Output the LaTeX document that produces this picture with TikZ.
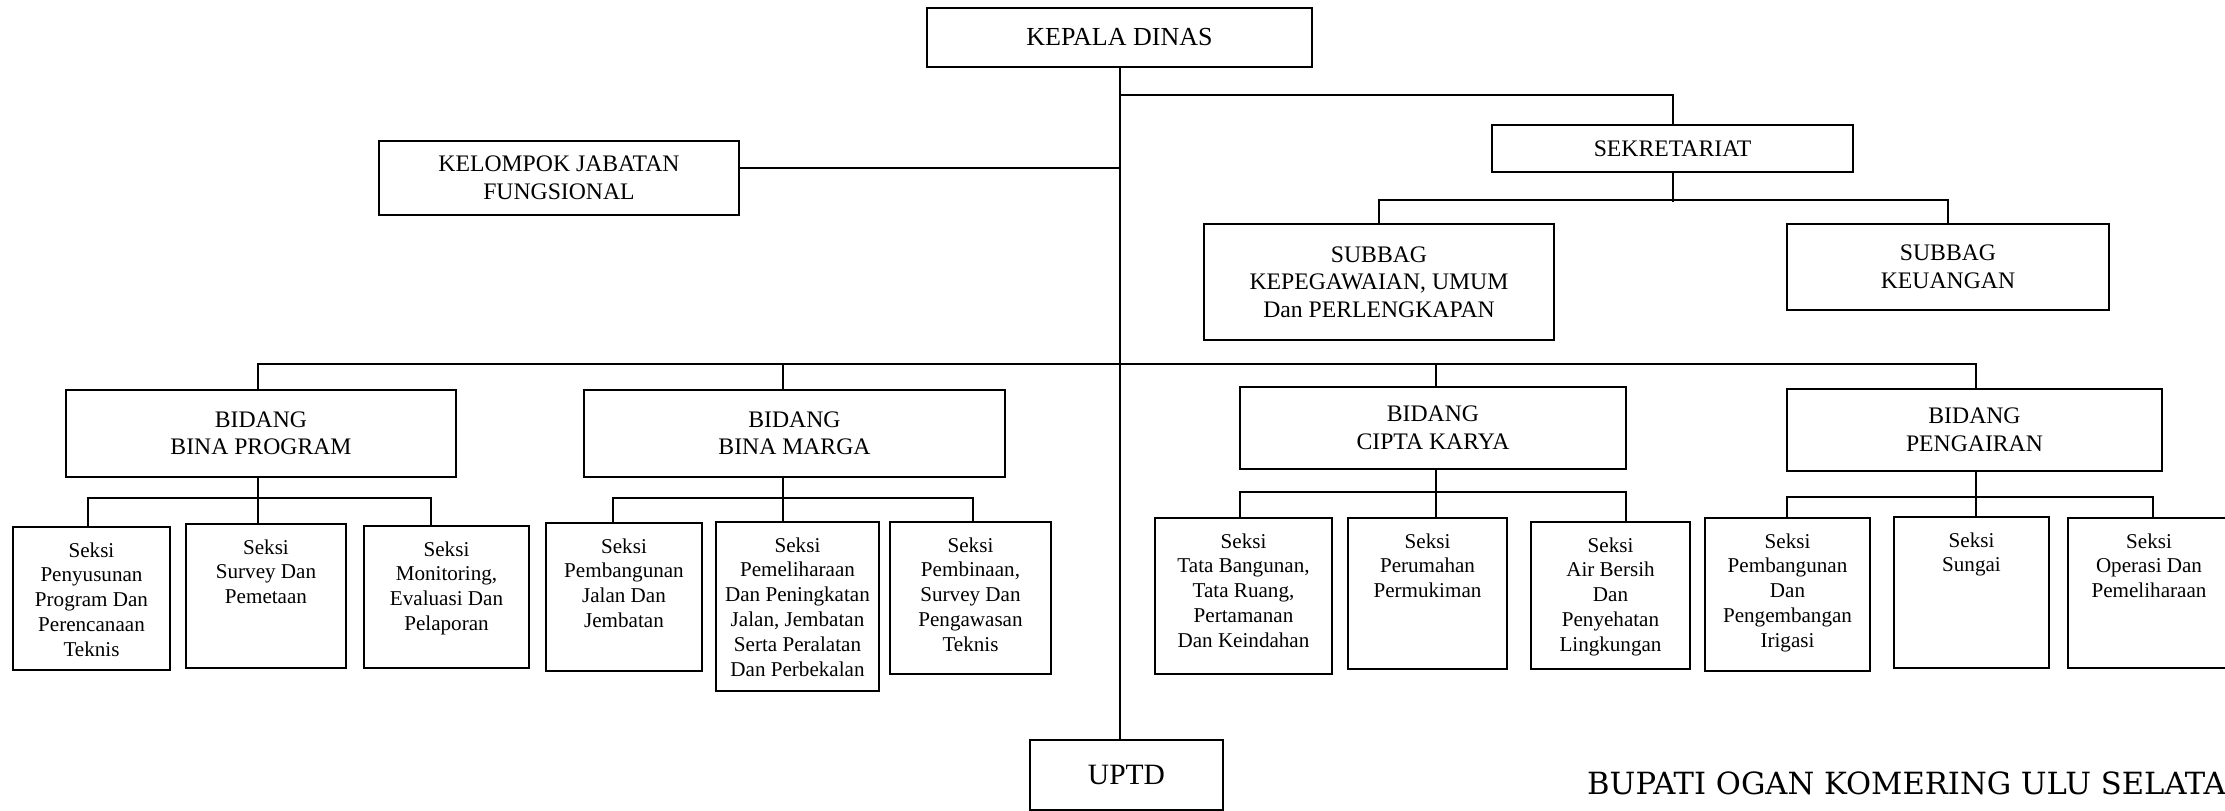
\documentclass[tikz,border=0pt]{standalone}
\usepackage{fontspec}
\setmainfont{Liberation Serif}
\newfontfamily\bupfam{DejaVu Serif}
\newcommand\mainf{\fontsize{23.7}{27.5}\selectfont}
\newcommand\kepf{\fontsize{26}{30}\selectfont}
\newcommand\uptdf{\fontsize{29.5}{33}\selectfont}
\newcommand\seksif{\fontsize{21.1}{24.8}\selectfont}
\newcommand\bupf{\bupfam\fontsize{30.6}{34}\selectfont}
\tikzset{
  box/.style={draw, line width=2.6pt, rectangle, inner sep=0pt, align=center, font=\mainf},
  sbox/.style={draw, line width=2.6pt, rectangle, inner sep=0pt},
  stxt/.style={inner sep=0pt, align=center, anchor=north, font=\seksif},
  conn/.style={line width=2pt},
}
\begin{document}
\begin{tikzpicture}[x=1pt,y=-1pt]
\useasboundingbox (0,0) rectangle (2225,811);
% top level
\node[box, font=\kepf, minimum width=385pt, minimum height=59pt] (kepala) at (1119.5,37.5) {KEPALA DINAS};
\node[box, minimum width=360pt, minimum height=74pt] (kelompok) at (559,178) {KELOMPOK JABATAN\\FUNGSIONAL};
\node[box, minimum width=361pt, minimum height=47pt] (sek) at (1672.5,148.5) {SEKRETARIAT};
\node[box, minimum width=350pt, minimum height=116pt] (kepeg) at (1379,282) {SUBBAG\\KEPEGAWAIAN, UMUM\\Dan PERLENGKAPAN};
\node[box, minimum width=322pt, minimum height=86pt] (keu) at (1948,267) {SUBBAG\\KEUANGAN};
% bidang
\node[box, minimum width=390pt, minimum height=87pt] (bp) at (261,433.5) {BIDANG\\BINA PROGRAM};
\node[box, minimum width=421pt, minimum height=87pt] (bm) at (794.5,433.5) {BIDANG\\BINA MARGA};
\node[box, minimum width=386pt, minimum height=82pt] (ck) at (1433,428) {BIDANG\\CIPTA KARYA};
\node[box, minimum width=375pt, minimum height=82pt] (peng) at (1974.5,430) {BIDANG\\PENGAIRAN};
\node[box, font=\uptdf, minimum width=193pt, minimum height=70pt] (uptd) at (1126.5,775) {UPTD};
% seksi boxes
\node[sbox, minimum width=157pt, minimum height=143pt] (b1) at (91.5,598.5) {};
\node[sbox, minimum width=160pt, minimum height=144pt] (b2) at (266,596) {};
\node[sbox, minimum width=165pt, minimum height=142pt] (b3) at (446.5,597) {};
\node[sbox, minimum width=156pt, minimum height=148pt] (b4) at (624,597) {};
\node[sbox, minimum width=163pt, minimum height=169pt] (b5) at (797.5,606.5) {};
\node[sbox, minimum width=161pt, minimum height=152pt] (b6) at (970.5,598) {};
\node[sbox, minimum width=177pt, minimum height=156pt] (b7) at (1243.5,596) {};
\node[sbox, minimum width=159pt, minimum height=151pt] (b8) at (1427.5,593.5) {};
\node[sbox, minimum width=159pt, minimum height=147pt] (b9) at (1610.5,595.5) {};
\node[sbox, minimum width=165pt, minimum height=153pt] (b10) at (1787.5,594.5) {};
\node[sbox, minimum width=155pt, minimum height=151pt] (b11) at (1971.5,592.5) {};
\node[sbox, minimum width=162pt, minimum height=150pt] (b12) at (2149,593) {};
% seksi texts
\node[stxt] (t1) at ([yshift=-16.5pt]b1.north) {Seksi\\Penyusunan\\Program Dan\\Perencanaan\\Teknis};
\node[stxt] (t2) at ([yshift=-16.5pt]b2.north) {Seksi\\Survey Dan\\Pemetaan};
\node[stxt] (t3) at ([yshift=-16.5pt]b3.north) {Seksi\\Monitoring,\\Evaluasi Dan\\Pelaporan};
\node[stxt] (t4) at ([yshift=-16.5pt]b4.north) {Seksi\\Pembangunan\\Jalan Dan\\Jembatan};
\node[stxt] (t5) at ([yshift=-16.5pt]b5.north) {Seksi\\Pemeliharaan\\Dan Peningkatan\\Jalan, Jembatan\\Serta Peralatan\\Dan Perbekalan};
\node[stxt] (t6) at ([yshift=-16.5pt]b6.north) {Seksi\\Pembinaan,\\Survey Dan\\Pengawasan\\Teknis};
\node[stxt] (t7) at ([yshift=-16.5pt]b7.north) {Seksi\\Tata Bangunan,\\Tata Ruang,\\Pertamanan\\Dan Keindahan};
\node[stxt] (t8) at ([yshift=-16.5pt]b8.north) {Seksi\\Perumahan\\Permukiman};
\node[stxt] (t9) at ([yshift=-16.5pt]b9.north) {Seksi\\Air Bersih\\Dan\\Penyehatan\\Lingkungan};
\node[stxt] (t10) at ([yshift=-16.5pt]b10.north) {Seksi\\Pembangunan\\Dan\\Pengembangan\\Irigasi};
\node[stxt] (t11) at ([yshift=-16.5pt]b11.north) {Seksi\\Sungai};
\node[stxt] (t12) at ([yshift=-16.5pt]b12.north) {Seksi\\Operasi Dan\\Pemeliharaan};
% footer
\node[font=\bupf, anchor=base west, inner sep=0pt] (bupati) at (1587,794) {BUPATI OGAN KOMERING ULU SELATAN};
% connectors
\coordinate (sekj) at (1119.5,95);
\coordinate (mb) at (1119.5,364);
\draw[conn] (kepala.south) -- (kepala.south |- uptd.north);
\draw[conn] ([yshift=10pt]kelompok.east) -- ([yshift=10pt]kelompok.east -| kepala.south);
\draw[conn] (sekj) -| (sek.north);
\draw[conn] (sek.south) -- ++(0,29);
\draw[conn] (kepeg.north) -- ++(0,-23) -| (keu.north);
\draw[conn] ([xshift=-3pt]bp.north) |- (mb) -| ([xshift=1.5pt]peng.north);
\draw[conn] ([xshift=-11.5pt]bm.north) -- ([xshift=-11.5pt]bm.north |- mb);
\draw[conn] ([xshift=3pt]ck.north) -- ([xshift=3pt]ck.north |- mb);
% bina program
\draw[conn] ([xshift=-3pt]bp.south) -- ([xshift=-3pt]bp.south |- b2.north);
\draw[conn] ([xshift=-3.5pt]b1.north) -- ++(0,-28) -| ([xshift=-15.5pt]b3.north);
% bina marga
\draw[conn] ([xshift=-11.5pt]bm.south) -- ([xshift=-11.5pt]bm.south |- b5.north);
\draw[conn] ([xshift=-11pt]b4.north) -- ++(0,-24) -| ([xshift=2.5pt]b6.north);
% cipta karya
\draw[conn] ([xshift=3pt]ck.south) -- ([xshift=3pt]ck.south |- b8.north);
\draw[conn] ([xshift=-3.5pt]b7.north) -- ++(0,-25) -| ([xshift=15.5pt]b9.north);
% pengairan
\draw[conn] ([xshift=1.5pt]peng.south) -- ([xshift=1.5pt]peng.south |- b11.north);
\draw[conn] ([xshift=-0.5pt]b10.north) -- ++(0,-20) -| ([xshift=4pt]b12.north);
\end{tikzpicture}
\end{document}
